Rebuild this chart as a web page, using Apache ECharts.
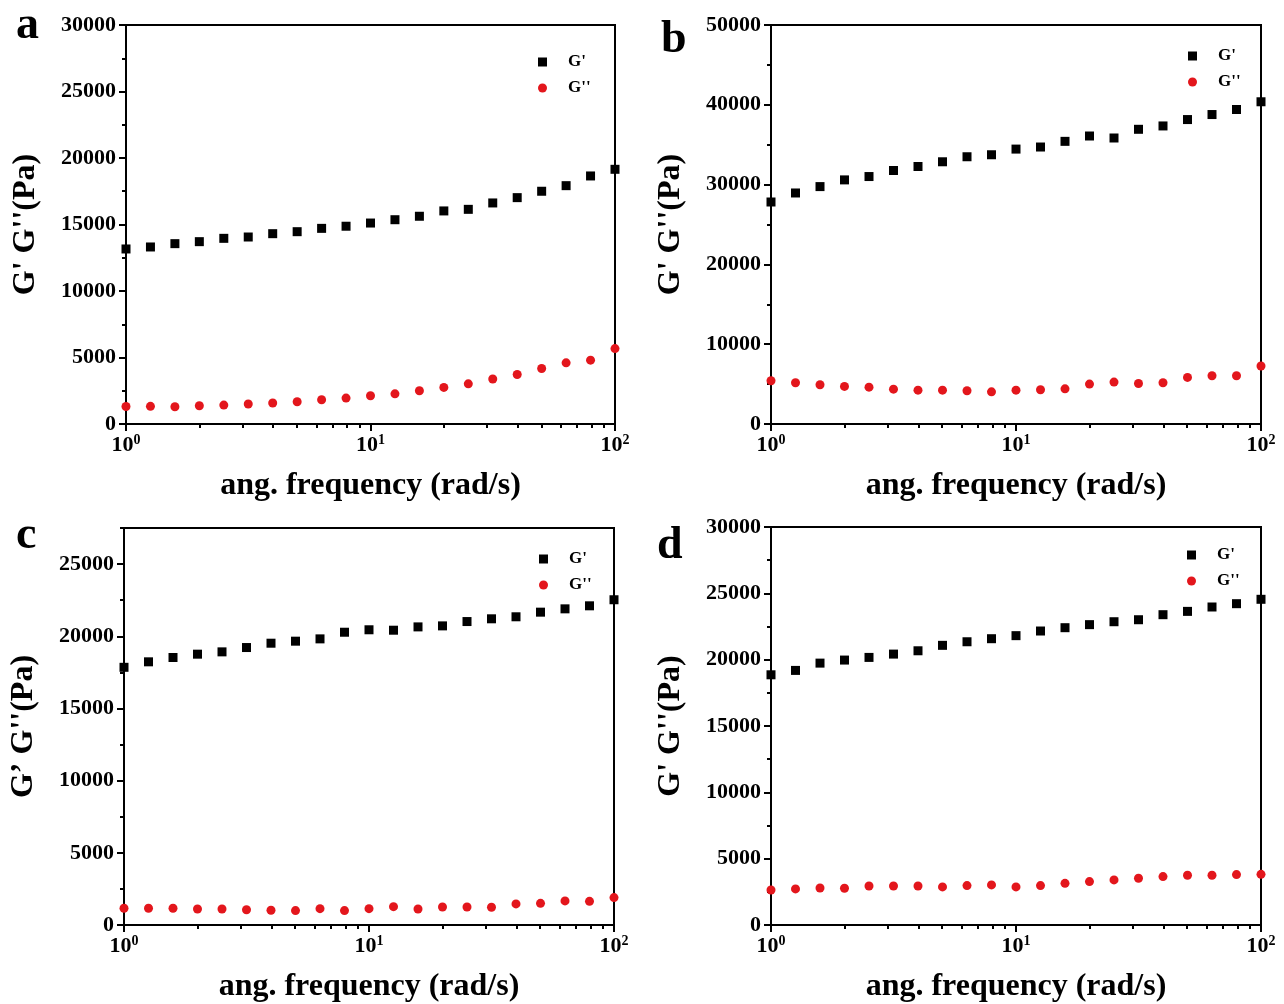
<!DOCTYPE html>
<html>
<head>
<meta charset="utf-8">
<title>G' G'' vs frequency</title>
<script src="https://cdn.jsdelivr.net/npm/echarts@6/dist/echarts.min.js"></script>
<style>
  html, body { margin: 0; padding: 0; background: #fff; }
  #main { width: 1284px; height: 1004px; }
</style>
</head>
<body>
<div id="main"></div>
<script>
// angular frequency points (rad/s), same for all four panels
var freq = [1, 1.259, 1.585, 1.995, 2.512, 3.162, 3.981, 5.012, 6.31, 7.943, 10,
  12.59, 15.85, 19.95, 25.12, 31.62, 39.81, 50.12, 63.1, 79.43, 100]

var aStorage = [13160, 13310, 13560, 13710, 13960, 14060, 14310, 14460, 14710, 14870, 15110,
  15360, 15620, 16020, 16140, 16620, 17020, 17500, 17920, 18650, 19150]
var aLoss = [1320, 1330, 1300, 1370, 1420, 1500, 1580, 1670, 1820, 1950, 2120,
  2270, 2500, 2750, 3020, 3380, 3720, 4170, 4600, 4800, 5670]

var bStorage = [27820, 28950, 29750, 30590, 31010, 31770, 32270, 32860, 33490, 33740, 34450,
  34710, 35420, 36090, 35840, 36930, 37350, 38150, 38780, 39410, 40380]
var bLoss = [5420, 5170, 4920, 4710, 4620, 4370, 4240, 4240, 4160, 4030, 4240,
  4290, 4410, 5000, 5250, 5080, 5170, 5840, 6050, 6050, 7270]

var cStorage = [17850, 18230, 18530, 18760, 18920, 19220, 19520, 19660, 19820, 20280, 20450,
  20420, 20650, 20720, 21020, 21210, 21350, 21670, 21900, 22110, 22530]
var cLoss = [1160, 1160, 1160, 1110, 1110, 1060, 1020, 1000, 1130, 1000, 1130,
  1270, 1110, 1250, 1250, 1230, 1460, 1500, 1670, 1640, 1900]

var dStorage = [18860, 19190, 19740, 19970, 20170, 20420, 20670, 21080, 21350, 21580, 21810,
  22160, 22410, 22640, 22860, 23010, 23390, 23640, 23970, 24220, 24550]
var dLoss = [2640, 2720, 2790, 2770, 2940, 2940, 2940, 2870, 2970, 3020, 2870,
  2970, 3140, 3270, 3400, 3520, 3650, 3750, 3750, 3800, 3820]

var xMinor = [2, 3, 4, 5, 6, 7, 8, 9, 20, 30, 40, 50, 60, 70, 80, 90]

var font = "'Liberation Serif', 'Times New Roman', serif"
var red = "#e3161c"

var panels = [
  { letter: "a", yName: "G' G''(Pa)", yMax: 30000, yStep: 5000, g: aStorage, gg: aLoss,
    grid: { left: 126, top: 25, width: 489, height: 399 }, legend: { left: 533, top: 48 }, title: { left: 11, top: -2 } },
  { letter: "b", yName: "G' G''(Pa)", yMax: 50000, yStep: 10000, g: bStorage, gg: bLoss,
    grid: { left: 771, top: 25, width: 490, height: 399 }, legend: { left: 1183, top: 42 }, title: { left: 656, top: 12 } },
  { letter: "c", yName: "G\u2019 G''(Pa)", yMax: 27500, yStep: 5000, g: cStorage, gg: cLoss,
    grid: { left: 124, top: 528, width: 490, height: 398 }, legend: { left: 534, top: 545 }, title: { left: 11, top: 508 } },
  { letter: "d", yName: "G' G''(Pa)", yMax: 30000, yStep: 5000, g: dStorage, gg: dLoss,
    grid: { left: 771, top: 527, width: 490, height: 399 }, legend: { left: 1182, top: 541 }, title: { left: 652, top: 518 } }
]

function ticksUpTo(max, step) {
  var out = []
  for (var v = 0; v <= max; v += step) out.push(v)
  return out
}

var chartDom = document.getElementById("main")
var myChart = echarts.init(chartDom)
var option = {
  backgroundColor: "#fff",
  animation: false,
  title: [],
  legend: [],
  grid: [],
  xAxis: [],
  yAxis: [],
  series: []
}

panels.forEach(function (p, i) {
  option.grid.push({
    left: p.grid.left, top: p.grid.top, width: p.grid.width, height: p.grid.height,
    show: true, borderColor: "#000", borderWidth: 2
  })
  option.title.push({
    text: p.letter, left: p.title.left, top: p.title.top,
    textStyle: { fontFamily: font, fontSize: 46, fontWeight: "bold", color: "#000" }
  })
  option.legend.push({
    orient: "vertical", left: p.legend.left, top: p.legend.top,
    itemWidth: 9, itemHeight: 9, itemGap: 8,
    textStyle: { fontFamily: font, fontSize: 17, fontWeight: "bold", color: "#000", padding: [0, 0, 0, 16], lineHeight: 18 },
    data: [{ name: "G'", icon: "rect" }, { name: "G''", icon: "circle" }]
  })

  var majors = ticksUpTo(p.yMax, p.yStep)
  var minors = []
  for (var v = p.yStep / 2; v <= p.yMax; v += p.yStep) minors.push(v)

  // main log x axis
  option.xAxis.push({
    type: "log", logBase: 10, gridIndex: i, min: 1, max: 100, position: "bottom",
    name: "ang. frequency (rad/s)", nameLocation: "middle", nameGap: 46,
    nameTextStyle: { fontFamily: font, fontSize: 32, fontWeight: "bold", color: "#000" },
    axisLine: { lineStyle: { color: "#000", width: 2 } },
    axisTick: { show: true, length: 7, lineStyle: { color: "#000", width: 2 } },
    axisLabel: {
      margin: 9, color: "#000",
      formatter: function (val) {
        return "{b|10}{s|" + Math.round(Math.log10(val)) + "}"
      },
      rich: {
        b: { fontFamily: font, fontSize: 22, fontWeight: "bold", color: "#000", lineHeight: 24 },
        s: { fontFamily: font, fontSize: 14, fontWeight: "bold", color: "#000", lineHeight: 14, verticalAlign: "top" }
      }
    },
    splitLine: { show: false }
  })
  // minor ticks 2..9 of each decade
  option.xAxis.push({
    type: "log", logBase: 10, gridIndex: i, min: 1, max: 100, position: "bottom", offset: 0,
    axisLine: { show: false },
    axisTick: { show: true, customValues: xMinor, length: 4, lineStyle: { color: "#000", width: 2 } },
    axisLabel: { show: false },
    splitLine: { show: false }
  })

  option.yAxis.push({
    type: "value", gridIndex: i, min: 0, max: p.yMax, interval: p.yStep, position: "left",
    name: p.yName, nameLocation: "middle", nameGap: 84,
    nameTextStyle: { fontFamily: font, fontSize: 32, fontWeight: "bold", color: "#000" },
    axisLine: { show: true, lineStyle: { color: "#000", width: 2 } },
    axisTick: { customValues: majors, length: 7, lineStyle: { color: "#000", width: 2 } },
    axisLabel: {
      customValues: majors, margin: 10, fontFamily: font, fontSize: 22, fontWeight: "bold", color: "#000",
      formatter: function (val) { return String(val) }
    },
    splitLine: { show: false }
  })
  option.yAxis.push({
    type: "value", gridIndex: i, min: 0, max: p.yMax, position: "left", offset: 0,
    axisLine: { show: false },
    axisTick: { customValues: minors, length: 4, lineStyle: { color: "#000", width: 2 } },
    axisLabel: { show: false },
    splitLine: { show: false }
  })

  option.series.push({
    name: "G'", type: "scatter", xAxisIndex: i * 2, yAxisIndex: i * 2,
    symbol: "rect", symbolSize: 9, clip: false, z: 5,
    itemStyle: { color: "#000", opacity: 1 },
    data: freq.map(function (f, k) { return [f, p.g[k]] })
  })
  option.series.push({
    name: "G''", type: "scatter", xAxisIndex: i * 2, yAxisIndex: i * 2,
    symbol: "circle", symbolSize: 9, clip: false, z: 5,
    itemStyle: { color: red, opacity: 1 },
    data: freq.map(function (f, k) { return [f, p.gg[k]] })
  })
})

option && myChart.setOption(option)
</script>
</body>
</html>
